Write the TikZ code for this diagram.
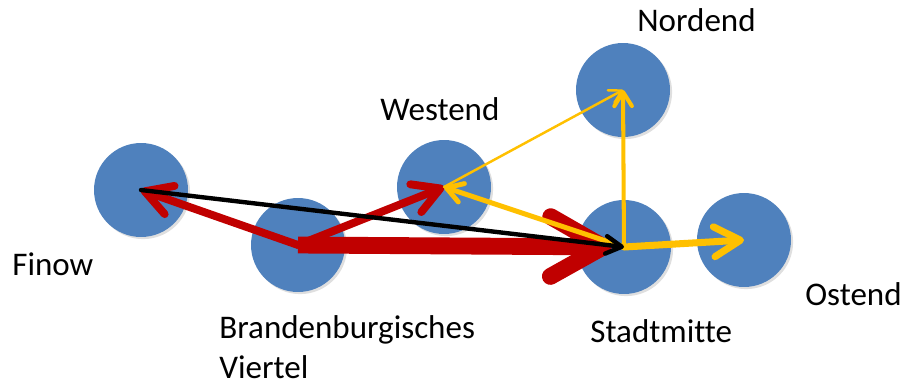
\documentclass[tikz,border=0pt]{standalone}
\usepackage{fontspec}
\setmainfont{Carlito}[Ligatures=NoCommon]
\usetikzlibrary{arrows.meta,shadows}
\definecolor{placeblue}{HTML}{4F81BD}
\definecolor{flowred}{HTML}{C00000}
\definecolor{flowgold}{HTML}{FFC000}

\begin{document}
\begin{tikzpicture}[x=0.02cm,y=-0.02cm,
  place/.style={circle,fill=placeblue,minimum size=1.88cm,inner sep=0pt,
    drop shadow={shadow xshift=1.2pt,shadow yshift=-1.2pt,opacity=0.25}},
  placename/.style={anchor=base west,inner sep=0pt,align=left,
    font=\fontsize{18.8}{22.3}\selectfont},
  flow/.style={line cap=round,line join=round}]
  \useasboundingbox (0,0) rectangle (905,385);
  \node[place] (finow) at (141,190) {};
  \node[place] (brand) at (298,245) {};
  \node[place] (west) at (444,187) {};
  \node[place] (nord) at (623,90) {};
  \node[place] (stadt) at (624,247) {};
  \node[place] (ost) at (744,240) {};
  \node[placename] (finowname) at (12,275) {Finow};
  \node[placename] (brandname) at (219,378) {Brandenburgisches\\Viertel};
  \node[placename] (westname) at (380,120) {Westend};
  \node[placename] (nordname) at (637,32) {Nordend};
  \node[placename] (stadtname) at (590,342) {Stadtmitte};
  \node[placename] (ostname) at (805,305) {Ostend};
  \draw[flow,flowred,line width=4.5pt,-{Straight Barb[round,length=15pt,width=17pt]}] (brand.center) -- (finow.center);
  \draw[flow,flowred,line width=4.5pt,-{Straight Barb[round,length=15pt,width=17pt]}] (brand.center) -- (west.center);
  \draw[flowred,line width=9.6pt,shorten >=7pt,-{Straight Barb[round,length=30pt,width=34pt]}] (brand.center) -- (stadt.center);
  \draw[flow,flowgold,line width=2.8pt,-{Straight Barb[round,length=9pt,width=11pt]}] (stadt.center) -- (west.center);
  \draw[flow,flowgold,line width=1.4pt,-{Straight Barb[round,length=7pt,width=8pt]}] (west.center) -- (nord.center);
  \draw[flow,flowgold,line width=2.3pt,-{Straight Barb[round,length=8pt,width=10pt]}] (stadt.center) -- (nord.center);
  \draw[flow,flowgold,line width=4pt,-{Straight Barb[round,length=15pt,width=17pt]}] (stadt.center) -- (ost.center);
  \draw[flow,black,line width=2.5pt,-{Straight Barb[round,length=9pt,width=10pt]}] (finow.center) -- (stadt.center);
\end{tikzpicture}
\end{document}
